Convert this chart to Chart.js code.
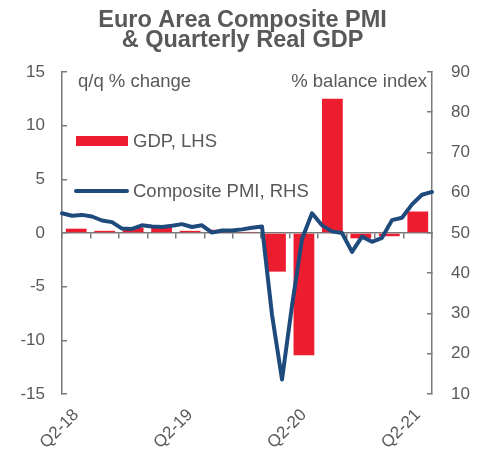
<!DOCTYPE html>
<html>
<head>
<meta charset="utf-8">
<script src="https://cdn.jsdelivr.net/npm/chart.js@4"></script>
<style>
  html, body { margin: 0; padding: 0; background: #ffffff; }
  #wrap { position: relative; width: 485px; height: 458px; }
</style>
</head>
<body>
<div id="wrap"><canvas id="c"></canvas></div>
<script>
// ---- data ----
const titleLines = ['Euro Area Composite PMI', '& Quarterly Real GDP'];
const quarters = ['Q2-18','Q3-18','Q4-18','Q1-19','Q2-19','Q3-19','Q4-19','Q1-20','Q2-20','Q3-20','Q4-20','Q1-21','Q2-21'];
const gdpQoQ = [0.4, 0.2, 0.5, 0.5, 0.2, 0.3, 0.1, -3.6, -11.4, 12.5, -0.5, -0.3, 2.0];
const months = ['Jun-18','Jul-18','Aug-18','Sep-18','Oct-18','Nov-18','Dec-18',
  'Jan-19','Feb-19','Mar-19','Apr-19','May-19','Jun-19','Jul-19','Aug-19','Sep-19','Oct-19','Nov-19','Dec-19',
  'Jan-20','Feb-20','Mar-20','Apr-20','May-20','Jun-20','Jul-20','Aug-20','Sep-20','Oct-20','Nov-20','Dec-20',
  'Jan-21','Feb-21','Mar-21','Apr-21','May-21','Jun-21','Jul-21'];
const compositePMI = [54.9, 54.3, 54.5, 54.1, 53.1, 52.7, 51.1,
  51.0, 51.9, 51.6, 51.5, 51.8, 52.2, 51.5, 51.9, 50.1, 50.6, 50.6, 50.9,
  51.3, 51.6, 29.7, 13.6, 31.9, 48.5, 54.9, 51.9, 50.4, 50.0, 45.3, 49.1,
  47.8, 48.8, 53.2, 53.8, 57.1, 59.5, 60.2];
const leftTicks = [-15, -10, -5, 0, 5, 10, 15];
const rightTicks = [10, 20, 30, 40, 50, 60, 70, 80, 90];
const shownQuarterLabels = ['Q2-18', 'Q2-19', 'Q2-20', 'Q2-21'];
const seriesNames = ['GDP, LHS', 'Composite PMI, RHS'];
const axisUnits = ['q/q % change', '% balance index'];

// ---- style ----
const RED = '#ED1C2E';
const BLUE = '#1F4A7C';
const GREY_TXT = '#595959';
const AXIS = '#7a7a7a';
const FONT = "'Liberation Sans', Arial, sans-serif";

const overlay = {
  id: 'overlay',
  afterDraw(chart) {
    const ctx = chart.ctx;
    const a = chart.chartArea;
    ctx.save();
    ctx.fillStyle = GREY_TXT;
    ctx.font = '18.5px ' + FONT;
    ctx.textBaseline = 'alphabetic';
    ctx.textAlign = 'left';
    ctx.fillText(axisUnits[0], a.left + 16, a.top + 15);
    ctx.textAlign = 'right';
    ctx.fillText(axisUnits[1], a.right - 5, a.top + 15);
    // legend
    ctx.textAlign = 'left';
    ctx.fillStyle = RED;
    ctx.fillRect(a.left + 14, a.top + 64, 52, 10);
    ctx.fillStyle = GREY_TXT;
    ctx.fillText(seriesNames[0], a.left + 71, a.top + 75.5);
    ctx.strokeStyle = BLUE;
    ctx.lineWidth = 4;
    ctx.lineCap = 'round';
    ctx.beginPath();
    ctx.moveTo(a.left + 14, a.top + 119);
    ctx.lineTo(a.left + 65, a.top + 119);
    ctx.stroke();
    ctx.fillText(seriesNames[1], a.left + 71, a.top + 125.5);
    ctx.restore();
  }
};

new Chart(document.getElementById('c'), {
  data: {
    datasets: [
      {
        type: 'line',
        label: seriesNames[1],
        data: compositePMI,
        xAxisID: 'xm',
        yAxisID: 'y1',
        borderColor: BLUE,
        borderWidth: 4,
        pointRadius: 0,
        tension: 0,
        borderJoinStyle: 'round',
        borderCapStyle: 'round',
        order: 0
      },
      {
        type: 'bar',
        label: seriesNames[0],
        data: gdpQoQ,
        xAxisID: 'x',
        yAxisID: 'y',
        backgroundColor: RED,
        borderWidth: 0,
        grouped: false,
        categoryPercentage: 1,
        barPercentage: 0.73,
        order: 1
      }
    ]
  },
  options: {
    responsive: true,
    maintainAspectRatio: false,
    animation: false,
    devicePixelRatio: 1,
    layout: { padding: 0 },
    plugins: {
      legend: { display: false },
      tooltip: { enabled: false },
      title: {
        display: true,
        text: titleLines,
        color: GREY_TXT,
        font: { family: FONT, size: 23.5, weight: 'bold', lineHeight: 0.87 },
        padding: { top: 10, bottom: 21.1 }
      }
    },
    scales: {
      x: {
        type: 'category',
        labels: quarters,
        position: 'bottom',
        offset: true,
        grid: { display: false, drawTicks: false },
        border: { display: false },
        ticks: {
          autoSkip: false,
          maxRotation: 45,
          minRotation: 45,
          padding: 11,
          color: GREY_TXT,
          font: { family: FONT, size: 17 },
          callback: function (v, i) {
            const l = quarters[i];
            return shownQuarterLabels.includes(l) ? l : '';
          }
        },
        afterFit: s => { s.height = 64; }
      },
      xZero: {
        type: 'category',
        labels: quarters,
        position: { y: 0 },
        offset: true,
        z: 1,
        grid: { display: true, drawOnChartArea: false, drawTicks: true, tickLength: 5, offset: true, color: AXIS, lineWidth: 1.5 },
        border: { display: true, color: AXIS, width: 1.5 },
        ticks: { display: false }
      },
      xm: {
        type: 'category',
        labels: months,
        position: 'top',
        offset: false,
        display: false
      },
      y: {
        type: 'linear',
        position: 'left',
        min: -15,
        max: 15,
        afterBuildTicks: s => { s.ticks = leftTicks.map(v => ({ value: v })); },
        grid: { display: true, drawOnChartArea: false, drawTicks: true, tickLength: -5, color: AXIS, lineWidth: 1.5 },
        border: { display: true, color: AXIS, width: 1.5 },
        ticks: { color: GREY_TXT, padding: 22, font: { family: FONT, size: 17 } },
        afterFit: s => { s.width = 62; }
      },
      y1: {
        type: 'linear',
        position: 'right',
        min: 10,
        max: 90,
        afterBuildTicks: s => { s.ticks = rightTicks.map(v => ({ value: v })); },
        grid: { display: true, drawOnChartArea: false, drawTicks: true, tickLength: -5, color: AXIS, lineWidth: 1.5 },
        border: { display: true, color: AXIS, width: 1.5 },
        ticks: { color: GREY_TXT, padding: 24, font: { family: FONT, size: 17 } },
        afterFit: s => { s.width = 53; }
      }
    }
  },
  plugins: [overlay]
});
</script>
</body>
</html>
